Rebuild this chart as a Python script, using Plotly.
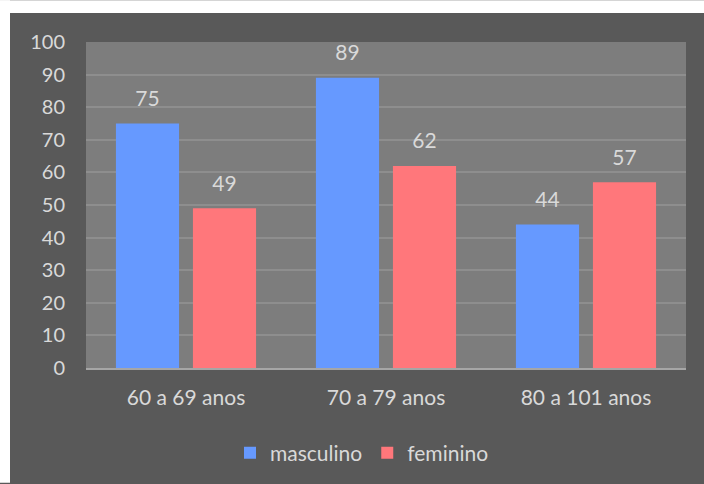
import plotly.graph_objects as go

categories = ["60 a 69 anos", "70 a 79 anos", "80 a 101 anos"]
masculino = [75, 89, 44]
feminino = [49, 62, 57]
y_ticks = [0, 10, 20, 30, 40, 50, 60, 70, 80, 90, 100]

FONT = "Lato"
TXT = "#d9d9d9"
series = [("masculino", masculino, "#6699FF"), ("feminino", feminino, "#FF777B")]

fig = go.Figure()
for name, vals, col in series:
    fig.add_trace(go.Bar(name=name, x=categories, y=vals, offsetgroup=name,
                         marker=dict(color=col, line=dict(width=0))))
# data labels, grouped like the bars
for name, vals, col in series:
    fig.add_trace(go.Scatter(x=categories, y=vals, offsetgroup=name, mode="markers+text",
                             text=[str(v) for v in vals], textposition="top center",
                             marker=dict(size=18, opacity=0), showlegend=False,
                             hoverinfo="skip", cliponaxis=False,
                             textfont=dict(size=21, color=TXT, family=FONT)))

fig.update_layout(
    width=704, height=484,
    margin=dict(l=86, r=18, t=42, b=115, pad=0),
    paper_bgcolor="#595959",
    plot_bgcolor="#7D7D7D",
    barmode="group", bargap=0.23, bargroupgap=0.18,
    scattermode="group", scattergap=0.23,
    font=dict(family=FONT, color=TXT, size=20),
    showlegend=True,
    legend=dict(orientation="h", x=0.46, xanchor="center", y=-0.257, yanchor="middle",
                font=dict(size=21, color=TXT, family=FONT), bgcolor="rgba(0,0,0,0)",
                itemwidth=30, traceorder="normal"),
    xaxis=dict(showgrid=False, showline=True, linecolor="#A6A6A6", linewidth=2,
               ticks="", tickfont=dict(size=21, color=TXT, family=FONT),
               ticklabelstandoff=10),
    yaxis=dict(range=[0, 100], tickvals=y_ticks, showgrid=True, gridcolor="#8E8E8E",
               gridwidth=1.5, zeroline=False, showline=False, ticks="",
               tickfont=dict(size=20, color=TXT, family=FONT), ticklabelstandoff=20),
    shapes=[
        dict(type="rect", xref="paper", yref="paper", x0=-86/600, x1=618/600,
             y0=1 + 29/327, y1=1 + 42/327, fillcolor="white", line=dict(width=0), layer="above"),
        dict(type="rect", xref="paper", yref="paper", x0=-86/600, x1=-76/600,
             y0=-115/327, y1=1 + 42/327, fillcolor="white", line=dict(width=0), layer="above"),
    ],
)

fig.write_html("out.html")
